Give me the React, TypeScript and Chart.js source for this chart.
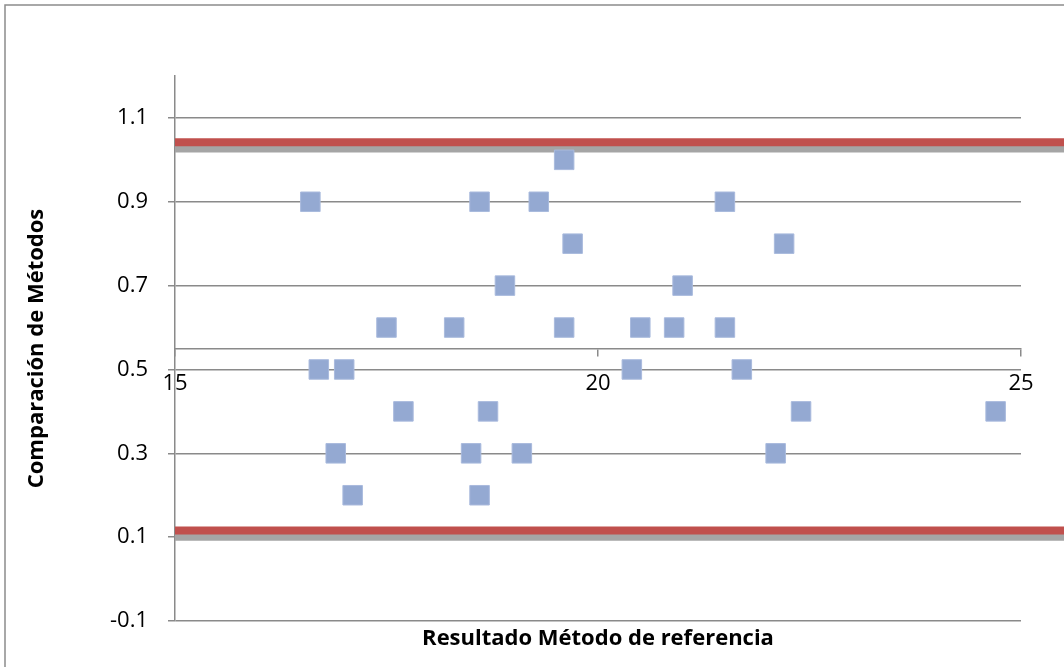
import React, { useEffect, useRef } from 'react';
import { Chart, registerables } from 'chart.js';

Chart.register(...registerables);

// Reference-method results (x) and method comparison values (y)
const refResults = [
  16.6, 16.7, 16.9, 17.0, 17.1, 17.5, 17.7, 18.3, 18.5, 18.6,
  18.6, 18.7, 18.9, 19.1, 19.3, 19.6, 19.6, 19.7, 20.4, 20.5,
  20.9, 21.0, 21.5, 21.5, 21.7, 22.1, 22.2, 22.4, 24.7,
];
const comparison = [
  0.9, 0.5, 0.3, 0.5, 0.2, 0.6, 0.4, 0.6, 0.3, 0.9,
  0.2, 0.4, 0.7, 0.3, 0.9, 1.0, 0.6, 0.8, 0.5, 0.6,
  0.6, 0.7, 0.9, 0.6, 0.5, 0.3, 0.8, 0.4, 0.4,
];

// Horizontal limit lines
const redLimits = [1.042, 0.116];
const grayLimits = [1.027, 0.101];
const limitSpan = [15, 27];

// Axis ticks
const yTicks = [-0.1, 0.1, 0.3, 0.5, 0.7, 0.9, 1.1];
const xTicks = [15, 20, 25];
const yRange = [-0.1, 1.2];
const xRange = [15, 25];
const xAxisCross = 0.55;

const GRID = '#8a8a8a';
const FONT = "'Open Sans', 'Liberation Sans', sans-serif";

const framePlugin = {
  id: 'frame',
  beforeDraw(chart: any) {
    const { ctx, width, height } = chart;
    ctx.save();
    ctx.fillStyle = '#ffffff';
    ctx.fillRect(0, 0, width, height);
    ctx.strokeStyle = '#8c8c8c';
    ctx.lineWidth = 1.5;
    ctx.strokeRect(5, 5, width + 40, height + 40);
    ctx.restore();
  },
};

const limitLine = (y: number, color: string) => ({
  type: 'line' as const,
  data: limitSpan.map((x) => ({ x, y })),
  showLine: true,
  borderColor: color,
  backgroundColor: color,
  borderWidth: 8,
  pointRadius: 0,
  clip: false as any,
});

export default function App() {
  const canvasRef = useRef<HTMLCanvasElement | null>(null);

  useEffect(() => {
    const canvas = canvasRef.current;
    if (!canvas) return;
    const chart = new Chart(canvas, {
      type: 'scatter',
      data: {
        datasets: [
          {
            data: refResults.map((x, i) => ({ x, y: comparison[i] })),
            pointStyle: 'rect',
            pointRadius: 13.8,
            backgroundColor: '#94a9d2',
            borderColor: '#a9badd',
            borderWidth: 1,
          } as any,
          limitLine(redLimits[0], '#c0504d'),
          limitLine(redLimits[1], '#c0504d'),
          limitLine(grayLimits[0], '#a5a5a5'),
          limitLine(grayLimits[1], '#a5a5a5'),
        ],
      },
      options: {
        responsive: false,
        animation: false,
        layout: { padding: { top: 76, right: 43, left: 0, bottom: 0 } },
        plugins: { legend: { display: false }, tooltip: { enabled: false } },
        scales: {
          x: {
            type: 'linear',
            position: { y: xAxisCross } as any,
            min: xRange[0],
            max: xRange[1],
            afterBuildTicks: (s: any) => {
              s.ticks = xTicks.map((value) => ({ value }));
            },
            grid: { drawOnChartArea: false, drawTicks: true, tickLength: 7, color: GRID, lineWidth: 1.5 },
            border: { display: true, color: GRID, width: 1.5 },
            ticks: {
              color: '#000',
              padding: 15,
              maxRotation: 0,
              font: { family: FONT, size: 22 },
              callback: (v: any) => String(v),
            },
          },
          xTitle: {
            type: 'linear',
            axis: 'x',
            position: 'bottom',
            min: xRange[0],
            max: xRange[1],
            afterFit: (s: any) => {
              s.height = 46;
            },
            grid: { display: false, drawTicks: false },
            border: { display: false },
            ticks: { display: false },
            title: {
              display: true,
              text: 'Resultado Método de referencia',
              color: '#000',
              font: { family: FONT, size: 22, weight: 'bold' },
              padding: { top: 4, bottom: 15 },
            },
          },
          y: {
            type: 'linear',
            position: 'left',
            min: yRange[0],
            max: yRange[1],
            afterBuildTicks: (s: any) => {
              s.ticks = yTicks.map((value) => ({ value }));
            },
            afterFit: (s: any) => {
              s.width = 175;
            },
            grid: { drawTicks: true, tickLength: 7, color: GRID, lineWidth: 1.5 },
            border: { display: true, color: GRID, width: 1.5 },
            ticks: {
              color: '#000',
              padding: 20,
              font: { family: FONT, size: 22 },
              callback: (v: any) => Number(v).toFixed(1),
            },
            title: {
              display: true,
              text: 'Comparación de Métodos',
              color: '#000',
              font: { family: FONT, size: 22, weight: 'bold' },
              padding: { top: 24, bottom: 0 },
            },
          },
        },
      },
      plugins: [framePlugin],
    } as any);
    return () => chart.destroy();
  }, []);

  return (
    <div style={{ position: 'absolute', left: 0, top: 0, width: 1064, height: 667 }}>
      <canvas ref={canvasRef} width={1064} height={667} style={{ display: 'block' }} />
    </div>
  );
}
